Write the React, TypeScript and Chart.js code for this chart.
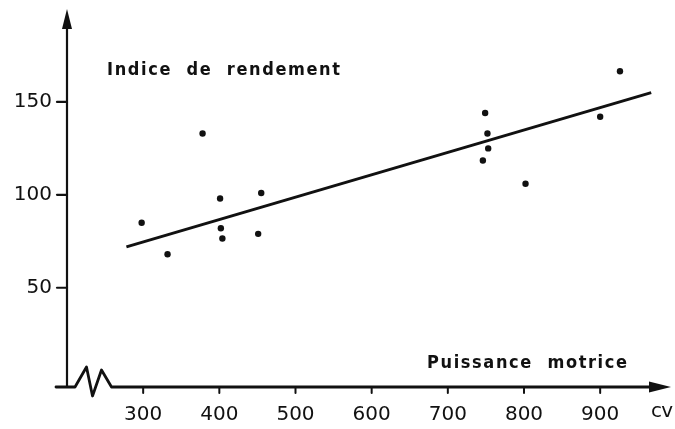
import React, { useEffect, useRef } from "react";
import { Chart, registerables } from "chart.js";

Chart.register(...registerables);

// ---- data ----
const powerCv = [298, 332, 378, 401, 402, 404, 455, 451, 749, 752, 753, 746, 802, 900, 926];
const yieldIndex = [85, 68, 133, 98, 82, 76.5, 101, 79, 144, 133, 125, 118.5, 106, 142, 166.5];
const trendX = [278, 967];
const trendY = [72, 155];
const xTicks = [300, 400, 500, 600, 700, 800, 900];
const yTicks = [50, 100, 150];
const yAxisTitle = "Indice  de  rendement";
const xAxisTitle = "Puissance  motrice";
const xUnit = "cv";

const INK = "#111111";
const TICK_FONT = "'DejaVu Sans', sans-serif";
const LABEL_FONT = "bold 18px 'DejaVu Sans Condensed', 'DejaVu Sans', sans-serif";

function spacedText(ctx: CanvasRenderingContext2D, text: string, left: number, baseline: number, width: number) {
  const chars = Array.from(text);
  const widths = chars.map((c) => ctx.measureText(c).width);
  const raw = widths.reduce((s, w) => s + w, 0);
  const gap = chars.length > 1 ? (width - raw) / (chars.length - 1) : 0;
  let x = left;
  chars.forEach((c, i) => {
    ctx.fillText(c, x, baseline);
    x += widths[i] + gap;
  });
}

const handAxes = {
  id: "handAxes",
  afterDraw(chart: any) {
    const { ctx, chartArea: a, scales } = chart;
    const xs = scales.x;
    const ys = scales.y;
    const x0 = a.left;
    const y0 = a.bottom;
    ctx.save();
    ctx.strokeStyle = INK;
    ctx.fillStyle = INK;
    ctx.lineCap = "round";
    ctx.lineJoin = "round";

    // vertical axis + arrow
    ctx.lineWidth = 2.2;
    ctx.beginPath();
    ctx.moveTo(x0, y0);
    ctx.lineTo(x0, a.top + 16);
    ctx.stroke();
    ctx.beginPath();
    ctx.moveTo(x0, a.top);
    ctx.lineTo(x0 - 5, a.top + 20);
    ctx.lineTo(x0 + 5, a.top + 20);
    ctx.closePath();
    ctx.fill();

    // y tick marks
    ys.ticks.forEach((t: any) => {
      const p = ys.getPixelForValue(t.value);
      ctx.beginPath();
      ctx.moveTo(x0 - 10, p);
      ctx.lineTo(x0, p);
      ctx.stroke();
    });

    // horizontal axis with break + arrow
    ctx.lineWidth = 2.8;
    ctx.beginPath();
    ctx.moveTo(x0 - 11, y0);
    ctx.lineTo(x0 + 8, y0);
    ctx.lineTo(x0 + 19.5, y0 - 20);
    ctx.lineTo(x0 + 25.5, y0 + 9);
    ctx.lineTo(x0 + 34.5, y0 - 17);
    ctx.lineTo(x0 + 44.5, y0);
    ctx.lineTo(a.right - 16, y0);
    ctx.stroke();
    ctx.beginPath();
    ctx.moveTo(a.right, y0);
    ctx.lineTo(a.right - 22, y0 - 5.5);
    ctx.lineTo(a.right - 22, y0 + 5.5);
    ctx.closePath();
    ctx.fill();

    // x tick marks
    ctx.lineWidth = 2;
    xs.ticks.forEach((t: any) => {
      const p = xs.getPixelForValue(t.value);
      ctx.beginPath();
      ctx.moveTo(p, y0);
      ctx.lineTo(p, y0 + 6);
      ctx.stroke();
    });

    // titles
    ctx.font = LABEL_FONT;
    ctx.textBaseline = "alphabetic";
    ctx.textAlign = "left";
    spacedText(ctx, yAxisTitle, x0 + 40, 75, 233);
    spacedText(ctx, xAxisTitle, x0 + 360, 368, 200);
    ctx.font = "20px " + TICK_FONT;
    spacedText(ctx, xUnit, x0 + 584, 417, 22);
    ctx.restore();
  },
};

export default function App() {
  const ref = useRef<HTMLCanvasElement | null>(null);

  useEffect(() => {
    if (!ref.current) return;
    const chart = new Chart(ref.current, {
      type: "scatter",
      data: {
        datasets: [
          {
            label: "Indice",
            data: powerCv.map((x, i) => ({ x, y: yieldIndex[i] })),
            backgroundColor: INK,
            borderColor: INK,
            pointRadius: 3.2,
            pointBorderWidth: 0,
            showLine: false,
          },
          {
            label: "Tendance",
            type: "line",
            data: trendX.map((x, i) => ({ x, y: trendY[i] })),
            borderColor: INK,
            borderWidth: 3,
            pointRadius: 0,
            fill: false,
          } as any,
        ],
      },
      options: {
        responsive: false,
        animation: false,
        layout: { padding: { top: 9, right: 4, left: 0, bottom: 0 } },
        plugins: { legend: { display: false }, tooltip: { enabled: false } },
        scales: {
          x: {
            type: "linear",
            min: 200,
            max: 993,
            grid: { display: false, drawTicks: false },
            border: { display: false },
            afterBuildTicks: (s: any) => {
              s.ticks = xTicks.map((v) => ({ value: v }));
            },
            afterFit: (s: any) => {
              s.height = 42;
              s.paddingLeft = 0;
              s.paddingRight = 0;
            },
            ticks: {
              color: INK,
              padding: 16,
              font: { family: TICK_FONT, size: 20 },
              maxRotation: 0,
              autoSkip: false,
            },
          },
          y: {
            type: "linear",
            min: -3.4,
            max: 200,
            grid: { display: false, drawTicks: false },
            border: { display: false },
            afterBuildTicks: (s: any) => {
              s.ticks = yTicks.map((v) => ({ value: v }));
            },
            afterFit: (s: any) => {
              s.width = 67;
              s.paddingTop = 0;
              s.paddingBottom = 0;
            },
            ticks: {
              color: INK,
              padding: 15,
              font: { family: TICK_FONT, size: 20 },
              autoSkip: false,
            },
          },
        },
      },
      plugins: [handAxes],
    });
    return () => chart.destroy();
  }, []);

  return (
    <div style={{ position: "fixed", left: 0, top: 0, width: 675, height: 429, background: "#fff" }}>
      <canvas ref={ref} width={675} height={429} />
    </div>
  );
}
